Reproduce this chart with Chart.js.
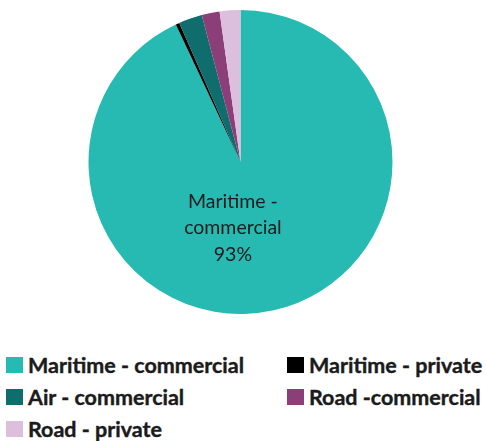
<!DOCTYPE html>
<html>
<head>
<meta charset="utf-8">
<script src="https://cdn.jsdelivr.net/npm/chart.js@4.4.0/dist/chart.umd.min.js"></script>
<style>
  body { margin: 0; background: #fff; width: 486px; height: 441px; overflow: hidden; font-family: Lato, sans-serif; }
  #wrap { position: absolute; left: 0; top: 0; width: 486px; height: 330px; }
  #legend { position: absolute; left: 6px; top: 355px; width: 480px; display: grid;
    grid-template-columns: 281px 199px; row-gap: 12px; }
  .item { display: flex; align-items: center; height: 20px; font-weight: 700; font-size: 21.5px;
    color: #1b1b1b; white-space: nowrap; -webkit-text-stroke: 0.4px #1b1b1b; }
  .box { width: 17px; height: 16px; margin-right: 5px; flex: none; }
</style>
</head>
<body>
<div id="wrap"><canvas id="pie"></canvas></div>
<div id="legend"></div>
<script>
// transport modes, share of total (%)
const labels = ['Maritime - commercial', 'Maritime - private', 'Air - commercial', 'Road -commercial', 'Road - private'];
const shares = [93, 0.4, 2.5, 1.9, 2.2];
const colors = ['#27bab2', '#000000', '#0f6d6e', '#8c3e78', '#dcbfdd'];
const bigLabel = ['Maritime -', 'commercial', '93%'];

// text written inside the largest slice
const sliceLabel = {
  id: 'sliceLabel',
  afterDatasetsDraw(chart) {
    const arc = chart.getDatasetMeta(0).data[0];
    const r = arc.outerRadius;
    const ctx = chart.ctx;
    ctx.save();
    ctx.font = '19.5px Lato';
    ctx.fillStyle = '#1b1b1b';
    ctx.textAlign = 'center';
    ctx.textBaseline = 'middle';
    bigLabel.forEach((line, i) => {
      ctx.fillText(line, arc.x - 0.05 * r, arc.y + (0.26 + i * 0.175) * r);
    });
    ctx.restore();
  }
};

const ctx = document.getElementById('pie').getContext('2d');
new Chart(ctx, {
  type: 'pie',
  data: {
    labels,
    datasets: [{ data: shares, backgroundColor: colors, borderWidth: 0 }]
  },
  options: {
    responsive: true,
    maintainAspectRatio: false,
    animation: false,
    layout: { padding: { top: 10, bottom: 16, left: 0, right: 5 } },
    plugins: { legend: { display: false }, tooltip: { enabled: false } }
  },
  plugins: [sliceLabel]
});

// two-column legend
const legend = document.getElementById('legend');
labels.forEach((name, i) => {
  const el = document.createElement('div');
  el.className = 'item';
  el.innerHTML = '<span class="box" style="background:' + colors[i] + '"></span>' + name;
  legend.appendChild(el);
});
</script>
</body>
</html>
